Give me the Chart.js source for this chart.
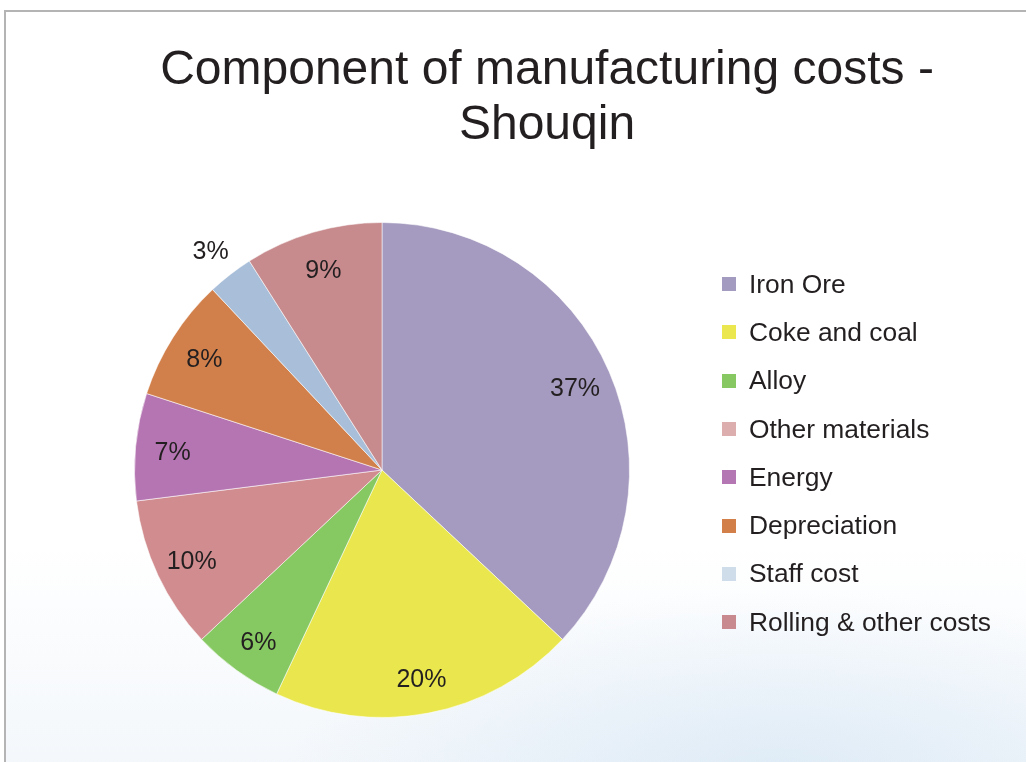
<!DOCTYPE html>
<html>
<head>
<meta charset="utf-8">
<title>Component of manufacturing costs - Shouqin</title>
<script src="https://cdn.jsdelivr.net/npm/chart.js@4.4.1/dist/chart.umd.min.js"></script>
<style>
  html, body { margin: 0; padding: 0; width: 1026px; height: 762px; overflow: hidden; background: #fff; }
  body { font-family: 'Liberation Sans', Arial, Helvetica, sans-serif; color: #231F20; }
  #frame {
    position: absolute; left: 4px; top: 10px; width: 1030px; height: 760px;
    border-top: 2px solid #b4b4b4; border-left: 2px solid #b4b4b4;
    background:
      radial-gradient(ellipse 700px 260px at 75% 100%, rgba(205,225,242,0.55), rgba(255,255,255,0) 70%),
      linear-gradient(to bottom, #ffffff 0%, #ffffff 70%, #f3f7fb 100%);
  }
  #wrap { position: absolute; left: 0; top: 0; width: 1026px; height: 762px; }
  #title {
    position: absolute; left: 147px; width: 800px; top: 40px;
    text-align: center; font-size: 48px; line-height: 55px;
  }
  #legend { position: absolute; left: 722px; top: 260px; }
  .legend-row { height: 48.3px; display: flex; align-items: center; font-size: 26.4px; white-space: nowrap; }
  .swatch { width: 14px; height: 14px; margin-right: 13px; flex: none; }
</style>
</head>
<body>
<div id="frame"></div>
<div id="wrap"><canvas id="costChart" width="1026" height="762"></canvas></div>
<div id="title"></div>
<div id="legend"></div>

<script>
/******************************************************
 * DATA
 ******************************************************/
const categories = ["Iron Ore", "Coke and coal", "Alloy", "Other materials",
                    "Energy", "Depreciation", "Staff cost", "Rolling & other costs"];
const shares = [37, 20, 6, 10, 7, 8, 3, 9];
const titleLines = ["Component of manufacturing costs -", "Shouqin"];

/******************************************************
 * COLOURS
 ******************************************************/
const sliceColors = ["#A59ABF", "#E9E74D", "#86C862", "#D08C8E",
                     "#B575B2", "#D2804B", "#A9BFD9", "#C78A8D"];
const legendColors = ["#A49BC0", "#EAE84E", "#87C863", "#DDAEAE",
                      "#B477B3", "#D27F4A", "#CFDDEA", "#C88A8E"];

const FONT = "'Liberation Sans', Arial, Helvetica, sans-serif";
const TEXT = "#231F20";

/******************************************************
 * TITLE + LEGEND
 ******************************************************/
document.getElementById("title").innerHTML = titleLines.join("<br>");

const legend = document.getElementById("legend");
categories.forEach((name, i) => {
  const row = document.createElement("div");
  row.className = "legend-row";
  row.innerHTML = `<span class="swatch" style="background:${legendColors[i]}"></span><span>${name.replace("&", "&amp;")}</span>`;
  legend.appendChild(row);
});

/******************************************************
 * PERCENT LABELS
 ******************************************************/
const percentLabels = {
  id: "percentLabels",
  afterDatasetsDraw(chart) {
    const ctx = chart.ctx;
    const arcs = chart.getDatasetMeta(0).data;
    ctx.save();
    ctx.font = "25px " + FONT;
    ctx.fillStyle = TEXT;
    ctx.textAlign = "center";
    ctx.textBaseline = "middle";
    arcs.forEach((arc, i) => {
      const mid = (arc.startAngle + arc.endAngle) / 2;
      const k = shares[i] < 4 ? 1.13 : 0.85;
      const r = arc.outerRadius * k;
      ctx.fillText(shares[i] + "%", arc.x + Math.cos(mid) * r, arc.y + Math.sin(mid) * r + 3);
    });
    ctx.restore();
  }
};

/******************************************************
 * CHART
 ******************************************************/
const ctx = document.getElementById("costChart").getContext("2d");
new Chart(ctx, {
  type: "pie",
  data: {
    labels: categories,
    datasets: [{
      data: shares,
      backgroundColor: sliceColors,
      borderColor: "rgba(255,255,255,0.55)",
      borderWidth: 1
    }]
  },
  options: {
    responsive: false,
    animation: false,
    layout: { padding: { left: 134, right: 396, top: 222, bottom: 44 } },
    plugins: {
      tooltip: { enabled: false },
      title: { display: false },
      legend: { display: false }
    }
  },
  plugins: [percentLabels]
});
</script>
</body>
</html>
